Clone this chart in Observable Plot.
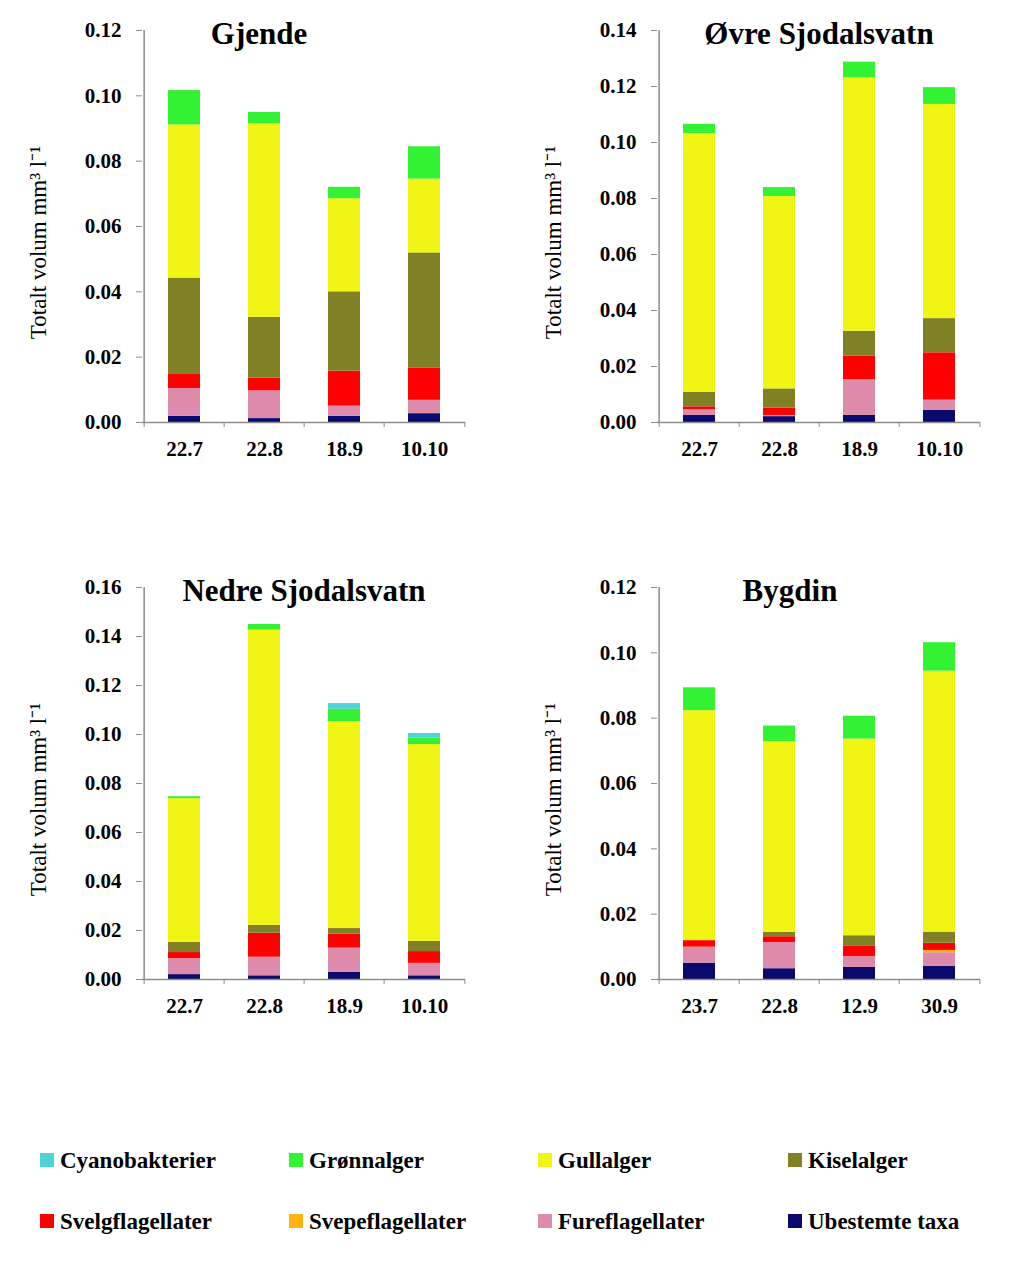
<!DOCTYPE html>
<html><head><meta charset="utf-8">
<script src="https://cdn.jsdelivr.net/npm/d3@7"></script>
<script src="https://cdn.jsdelivr.net/npm/@observablehq/plot@0.6"></script>
<style>
body{margin:0;background:#fff;font-family:"Liberation Serif","Times New Roman",serif;}
#wrap{position:relative;width:1024px;height:1281px;background:#fff;}
.panel{position:absolute;}
.leg{position:absolute;display:flex;align-items:center;font-weight:bold;font-size:23px;color:#000;line-height:1;}
.sw{width:14px;height:14px;margin-right:6px;flex:none;}
</style></head><body><div id="wrap"></div>
<script>
// Stack order, bottom to top
const taxa = ["Ubestemte taxa","Fureflagellater","Svepeflagellater","Svelgflagellater","Kiselalger","Gullalger","Grønnalger","Cyanobakterier"];
const taxaColors = ["#0a0a6e","#de8aaa","#ffb414","#ff0000","#808024","#f0f514","#33f233","#4dd2d9"];
const legendTaxa = ["Cyanobakterier","Grønnalger","Gullalger","Kiselalger","Svelgflagellater","Svepeflagellater","Fureflagellater","Ubestemte taxa"];
const yLabel = "Totalt volum mm³ l⁻¹";

const gjendeDates = ["22.7","22.8","18.9","10.10"];
const gjendeTicks = [0,0.02,0.04,0.06,0.08,0.10,0.12];
// rows follow taxa order, columns follow dates
const gjendeValues = [
  [0.0019,0.0012,0.0019,0.0027],
  [0.0085,0.0085,0.0031,0.0041],
  [0,0,0,0],
  [0.0043,0.0039,0.0107,0.0099],
  [0.0295,0.0186,0.0243,0.0352],
  [0.0469,0.0592,0.0285,0.0226],
  [0.0105,0.0035,0.0035,0.0099],
  [0,0,0,0]
];

const ovreDates = ["22.7","22.8","18.9","10.10"];
const ovreTicks = [0,0.02,0.04,0.06,0.08,0.10,0.12,0.14];
const ovreValues = [
  [0.0025,0.0021,0.0026,0.0044],
  [0.0021,0.0004,0.0127,0.0036],
  [0,0,0,0],
  [0.0010,0.0026,0.0084,0.0169],
  [0.0052,0.0069,0.0089,0.0122],
  [0.0924,0.0687,0.0905,0.0765],
  [0.0033,0.0032,0.0056,0.0060],
  [0,0,0,0]
];

const nedreDates = ["22.7","22.8","18.9","10.10"];
const nedreTicks = [0,0.02,0.04,0.06,0.08,0.10,0.12,0.14,0.16];
const nedreValues = [
  [0.0020,0.0015,0.0030,0.0015],
  [0.0065,0.0076,0.0098,0.0051],
  [0,0,0,0],
  [0.0025,0.0098,0.0057,0.0048],
  [0.0042,0.0032,0.0023,0.0042],
  [0.0586,0.1205,0.0844,0.0803],
  [0.0008,0.0023,0.0051,0.0026],
  [0,0,0.0023,0.0019]
];

const bygdinDates = ["23.7","22.8","12.9","30.9"];
const bygdinTicks = [0,0.02,0.04,0.06,0.08,0.10,0.12];
const bygdinValues = [
  [0.0050,0.0033,0.0037,0.0040],
  [0.0049,0.0080,0.0033,0.0042],
  [0,0,0,0.0007],
  [0.0020,0.0018,0.0033,0.0022],
  [0,0.0013,0.0031,0.0034],
  [0.0704,0.0584,0.0602,0.0799],
  [0.0070,0.0048,0.0070,0.0087],
  [0,0,0,0]
];

const panels = [
  {title:"Gjende", dates:gjendeDates, values:gjendeValues, ticks:gjendeTicks, left:0, top:0, mL:142, mR:47, titleDx:-45},
  {title:"Øvre Sjodalsvatn", dates:ovreDates, values:ovreValues, ticks:ovreTicks, left:512, top:0, mL:145, mR:44, titleDx:0},
  {title:"Nedre Sjodalsvatn", dates:nedreDates, values:nedreValues, ticks:nedreTicks, left:0, top:557, mL:142, mR:47, titleDx:0},
  {title:"Bygdin", dates:bygdinDates, values:bygdinValues, ticks:bygdinTicks, left:512, top:557, mL:145, mR:44, titleDx:-29}
];

const W = 512, H = 472;
const wrap = document.getElementById("wrap");
const axisGray = "#8c8c8c";

for (const p of panels) {
  const rows = [];
  p.dates.forEach((d, j) => taxa.forEach((t, i) => rows.push({date: d, taxon: t, value: p.values[i][j]})));
  const bw = (W - p.mL - p.mR) / p.dates.length;
  const yMax = p.ticks[p.ticks.length - 1];
  const svg = Plot.plot({
    width: W, height: H,
    marginLeft: p.mL, marginRight: p.mR, marginTop: 30, marginBottom: 50,
    x: {domain: p.dates, padding: 0, axis: null},
    y: {domain: [0, yMax], axis: null},
    color: {domain: taxa, range: taxaColors},
    style: {fontFamily: '"Liberation Serif","Times New Roman",serif', color: "#000", background: "transparent"},
    marks: [
      Plot.barY(rows, {x: "date", y: "value", fill: "taxon", insetLeft: 24, insetRight: 24}),
      Plot.ruleY([0], {stroke: axisGray, strokeWidth: 1.5}),
      Plot.ruleX([p.dates[0]], {dx: -bw / 2, y1: 0, y2: yMax, stroke: axisGray, strokeWidth: 1.5}),
      Plot.axisY({ticks: p.ticks, tickFormat: d3.format(".2f"), tickSize: 6, tickPadding: 15, stroke: axisGray, fill: "#000", fontSize: 21, fontWeight: "bold", label: null}),
      Plot.axisX({tickSize: 0, tickPadding: 19, fill: "#000", fontSize: 21, fontWeight: "bold", label: null}),
      Plot.axisX({tickSize: 5, dx: -bw / 2, tickFormat: () => "", stroke: axisGray, label: null}),
      Plot.axisX({ticks: [p.dates[p.dates.length - 1]], tickSize: 5, dx: bw / 2, tickFormat: () => "", stroke: axisGray, label: null}),
      Plot.text([yLabel], {text: d => d, frameAnchor: "left", textAnchor: "middle", rotate: -90, dx: -104, dy: 16, fontSize: 23, fill: "#000"}),
      Plot.text([p.title], {text: d => d, frameAnchor: "top", dx: p.titleDx, dy: 4, lineAnchor: "middle", fontSize: 31, fontWeight: "bold", fill: "#000"})
    ]
  });
  const div = document.createElement("div");
  div.className = "panel";
  div.style.left = p.left + "px";
  div.style.top = p.top + "px";
  div.appendChild(svg);
  wrap.appendChild(div);
}

// Legend (HTML, below the charts)
const legendCols = [40, 289, 538, 788];
const legendRows = [1160, 1221];
legendTaxa.forEach((t, k) => {
  const el = document.createElement("div");
  el.className = "leg";
  el.style.left = legendCols[k % 4] + "px";
  el.style.top = (legendRows[Math.floor(k / 4)] - 12) + "px";
  el.style.height = "24px";
  const sw = document.createElement("span");
  sw.className = "sw";
  sw.style.background = taxaColors[taxa.indexOf(t)];
  const tx = document.createElement("span");
  tx.textContent = t;
  el.appendChild(sw);
  el.appendChild(tx);
  wrap.appendChild(el);
});
</script>
</body></html>
